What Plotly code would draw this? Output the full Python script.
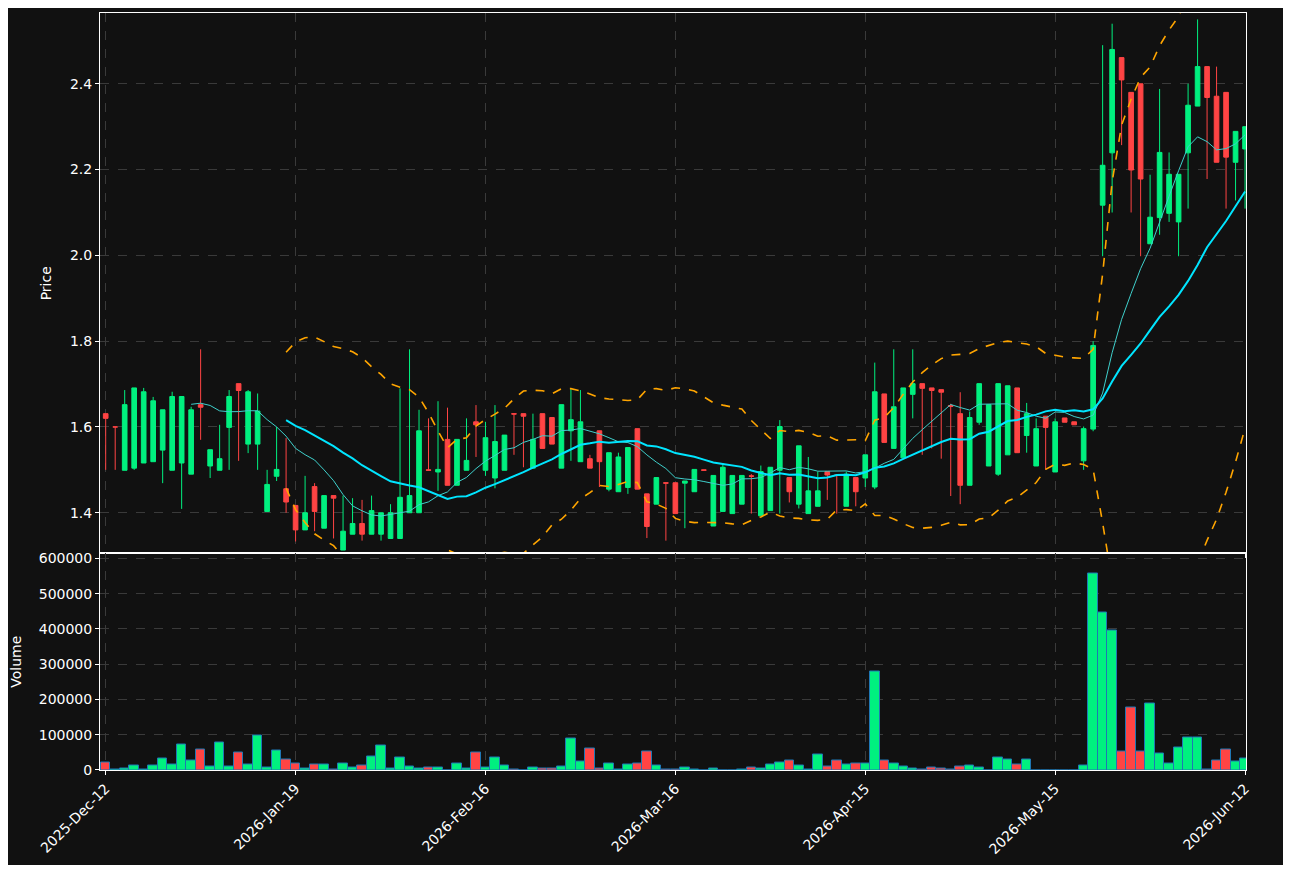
import pandas as pd
import plotly.graph_objects as go
from plotly.subplots import make_subplots

# OHLC, one row per trading day (index 0..120)
opens = [1.631, 1.600, 1.499, 1.504, 1.516, 1.519, 1.546, 1.499, 1.516, 1.490,
         1.652, 1.509, 1.499, 1.599, 1.701, 1.560, 1.560, 1.403, 1.485, 1.456,
         1.417, 1.360, 1.461, 1.364, 1.440, 1.313, 1.350, 1.375, 1.350, 1.350,
         1.340, 1.340, 1.400, 1.400, 1.500, 1.495, 1.571, 1.464, 1.499, 1.612,
         1.499, 1.481, 1.499, 1.631, 1.631, 1.504, 1.631, 1.622, 1.504, 1.591,
         1.519, 1.526, 1.591, 1.455, 1.449, 1.459, 1.596, 1.444, 1.420, 1.470,
         1.470, 1.469, 1.449, 1.500, 1.369, 1.403, 1.398, 1.420, 1.486, 1.393,
         1.405, 1.499, 1.482, 1.420, 1.398, 1.415, 1.496, 1.488, 1.415, 1.482,
         1.481, 1.460, 1.677, 1.550, 1.528, 1.676, 1.701, 1.691, 1.687, 1.650,
         1.631, 1.464, 1.611, 1.509, 1.490, 1.535, 1.691, 1.580, 1.509, 1.625,
         1.495, 1.621, 1.612, 1.521, 1.595, 2.117, 2.239, 2.461, 2.380, 2.400,
         2.027, 2.088, 2.098, 2.078, 2.239, 2.348, 2.440, 2.371, 2.380, 2.217,
         2.248]
highs = [1.631, 1.600, 1.686, 1.691, 1.691, 1.670, 1.640, 1.682, 1.671, 1.647,
         1.781, 1.547, 1.605, 1.686, 1.701, 1.686, 1.678, 1.500, 1.600, 1.574,
         1.417, 1.486, 1.469, 1.440, 1.440, 1.440, 1.434, 1.430, 1.440, 1.400,
         1.420, 1.690, 1.781, 1.640, 1.620, 1.660, 1.645, 1.571, 1.620, 1.651,
         1.612, 1.651, 1.581, 1.631, 1.631, 1.631, 1.631, 1.622, 1.652, 1.690,
         1.686, 1.535, 1.591, 1.540, 1.540, 1.552, 1.596, 1.444, 1.482, 1.470,
         1.470, 1.474, 1.501, 1.500, 1.487, 1.515, 1.487, 1.487, 1.490, 1.510,
         1.506, 1.616, 1.482, 1.556, 1.530, 1.496, 1.496, 1.488, 1.496, 1.482,
         1.535, 1.750, 1.677, 1.781, 1.691, 1.781, 1.701, 1.691, 1.687, 1.654,
         1.681, 1.636, 1.701, 1.652, 1.701, 1.696, 1.691, 1.656, 1.620, 1.625,
         1.620, 1.621, 1.612, 1.601, 1.800, 2.490, 2.540, 2.461, 2.380, 2.400,
         2.188, 2.388, 2.240, 2.189, 2.400, 2.550, 2.440, 2.440, 2.380, 2.289,
         2.300]
lows = [1.500, 1.500, 1.499, 1.500, 1.516, 1.519, 1.469, 1.499, 1.409, 1.490,
        1.570, 1.481, 1.499, 1.500, 1.521, 1.539, 1.500, 1.403, 1.474, 1.400,
        1.333, 1.360, 1.357, 1.364, 1.340, 1.313, 1.350, 1.335, 1.350, 1.335,
        1.340, 1.340, 1.400, 1.400, 1.500, 1.451, 1.464, 1.464, 1.499, 1.530,
        1.486, 1.457, 1.499, 1.535, 1.506, 1.504, 1.550, 1.560, 1.504, 1.521,
        1.519, 1.504, 1.460, 1.450, 1.449, 1.444, 1.455, 1.341, 1.420, 1.335,
        1.398, 1.364, 1.449, 1.500, 1.369, 1.403, 1.398, 1.420, 1.398, 1.393,
        1.405, 1.398, 1.424, 1.410, 1.398, 1.415, 1.430, 1.398, 1.415, 1.415,
        1.460, 1.455, 1.564, 1.550, 1.528, 1.620, 1.535, 1.550, 1.526, 1.439,
        1.420, 1.464, 1.605, 1.509, 1.486, 1.535, 1.540, 1.540, 1.509, 1.500,
        1.495, 1.611, 1.605, 1.500, 1.590, 1.998, 2.100, 2.257, 2.100, 1.998,
        2.027, 2.048, 2.078, 1.998, 2.109, 2.348, 2.178, 2.217, 2.109, 2.128,
        2.109]
closes = [1.620, 1.600, 1.652, 1.691, 1.682, 1.661, 1.640, 1.671, 1.671, 1.640,
          1.646, 1.547, 1.526, 1.671, 1.685, 1.682, 1.637, 1.466, 1.501, 1.425,
          1.360, 1.400, 1.403, 1.440, 1.434, 1.357, 1.375, 1.350, 1.405, 1.400,
          1.400, 1.436, 1.440, 1.591, 1.499, 1.501, 1.464, 1.571, 1.522, 1.605,
          1.575, 1.566, 1.581, 1.630, 1.625, 1.571, 1.550, 1.560, 1.652, 1.617,
          1.612, 1.504, 1.519, 1.540, 1.530, 1.552, 1.455, 1.368, 1.482, 1.469,
          1.398, 1.474, 1.501, 1.499, 1.487, 1.506, 1.487, 1.487, 1.485, 1.496,
          1.506, 1.601, 1.449, 1.556, 1.451, 1.451, 1.488, 1.487, 1.490, 1.449,
          1.535, 1.682, 1.564, 1.647, 1.691, 1.701, 1.690, 1.685, 1.681, 1.648,
          1.464, 1.622, 1.701, 1.652, 1.701, 1.696, 1.540, 1.631, 1.596, 1.599,
          1.612, 1.611, 1.605, 1.596, 1.790, 2.210, 2.480, 2.409, 2.199, 2.178,
          2.089, 2.240, 2.189, 2.189, 2.350, 2.440, 2.368, 2.217, 2.229, 2.289,
          2.300]
volumes = [22000, 2000, 5000, 13000, 2000, 13000, 33000, 16000, 73000, 27000,
           58000, 9000, 78000, 9000, 50000, 16000, 98000, 7000, 56000, 30000,
           19000, 4000, 16000, 16000, 2000, 19000, 7000, 13000, 39000, 70000,
           5000, 36000, 9000, 4000, 7000, 7000, 0, 19000, 4000, 50000,
           6000, 36000, 13000, 2000, 0, 8000, 4000, 4000, 9000, 90000,
           25000, 61000, 4000, 19000, 2000, 16000, 19000, 53000, 13000, 2000,
           1000, 7000, 2000, 0, 5000, 0, 0, 1000, 7000, 5000,
           16000, 22000, 27000, 13000, 1000, 44000, 10000, 27000, 16000, 19000,
           19000, 280000, 27000, 19000, 10000, 5000, 1000, 7000, 4000, 1000,
           10000, 13000, 6000, 0, 36000, 30000, 17000, 30000, 0, 0,
           0, 0, 0, 13000, 557000, 446000, 395000, 53000, 176000, 53000,
           190000, 47000, 19000, 64000, 93000, 93000, 2000, 28000, 59000, 25000,
           33000]
tick_pos = [0, 20, 40, 60, 80, 100, 120]
tick_labels = ['2025-Dec-12', '2026-Jan-19', '2026-Feb-16', '2026-Mar-16',
               '2026-Apr-15', '2026-May-15', '2026-Jun-12']

df = pd.DataFrame({'open': opens, 'high': highs, 'low': lows,
                   'close': closes, 'volume': volumes})
df['ma10'] = df['close'].rolling(10).mean()
df['ma20'] = df['close'].rolling(20).mean()
std20 = df['close'].rolling(20).std()
df['bb_up'] = df['ma20'] + 2 * std20
df['bb_lo'] = df['ma20'] - 2 * std20

UP = '#00f07f'
DOWN = '#ff4444'
BG = '#111111'
GRID = '#3a3a3a'

fig = make_subplots(rows=2, cols=1, shared_xaxes=True, vertical_spacing=0,
                    row_heights=[0.714, 0.286])

fig.add_trace(go.Candlestick(
    x=df.index, open=df['open'], high=df['high'], low=df['low'], close=df['close'],
    increasing=dict(line=dict(color=UP, width=1), fillcolor=UP),
    decreasing=dict(line=dict(color=DOWN, width=1), fillcolor=DOWN),
    whiskerwidth=0, showlegend=False), row=1, col=1)

fig.add_trace(go.Scatter(x=df.index, y=df['ma10'], mode='lines',
                         line=dict(color='#3fd0cc', width=1), showlegend=False), row=1, col=1)
fig.add_trace(go.Scatter(x=df.index, y=df['ma20'], mode='lines',
                         line=dict(color='#00e5ff', width=2), showlegend=False), row=1, col=1)
for col in ['bb_up', 'bb_lo']:
    fig.add_trace(go.Scatter(x=df.index, y=df[col], mode='lines',
                             line=dict(color='#ffa500', width=1.6, dash='dash'),
                             showlegend=False), row=1, col=1)

vol_colors = [UP if c >= o else DOWN for o, c in zip(df['open'], df['close'])]
fig.add_trace(go.Bar(x=df.index, y=df['volume'], width=1,
                     marker=dict(color=vol_colors, line=dict(color='#1f77b4', width=1)),
                     showlegend=False), row=2, col=1)

axis_style = dict(showline=True, linecolor='white', linewidth=1, mirror=True,
                  gridcolor=GRID, griddash='dash', zeroline=False,
                  ticks='outside', tickcolor='white', ticklen=4,
                  tickfont=dict(color='white', size=14))

fig.update_xaxes(**axis_style, range=[-0.6, 120.1], tickvals=tick_pos,
                 rangeslider=dict(visible=False))
fig.update_xaxes(ticktext=tick_labels, tickangle=-45, row=2, col=1)
fig.update_xaxes(showticklabels=False, row=1, col=1)
fig.update_yaxes(**axis_style)
fig.update_yaxes(range=[1.305, 2.565], dtick=0.2, tickformat='.1f',
                 title=dict(text='Price', font=dict(color='white', size=14)), row=1, col=1)
fig.update_yaxes(range=[0, 614000], dtick=100000, tickformat='d',
                 title=dict(text='Volume', font=dict(color='white', size=14)), row=2, col=1)

# page body keeps an 8px margin, so the figure is sized/offset to compensate
fig.update_layout(width=1275, height=857, paper_bgcolor=BG, plot_bgcolor=BG,
                  font=dict(family='DejaVu Sans', color='white'),
                  margin=dict(l=92, r=37, t=2, b=95), bargap=0)

fig.write_html("out.html")
